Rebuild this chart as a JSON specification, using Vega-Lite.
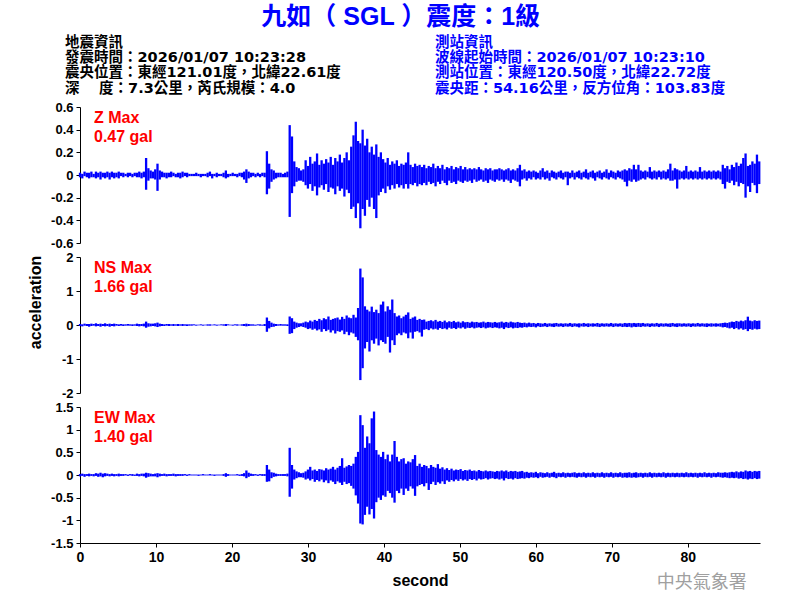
{
"$schema": "https://vega.github.io/schema/vega-lite/v6.json",
"background": "white",
"padding": {"left": 27, "top": 5, "right": 30, "bottom": 5},
"bounds": "flush",
"spacing": 14,
"title": {"text": "九如（ SGL ）震度：1級", "color": "#0000ff", "fontSize": 25, "font": "Liberation Sans, 'Noto Sans CJK TC'", "fontWeight": "bold", "anchor": "middle", "frame": "bounds", "offset": 3, "dx": 7},
"datasets": {
"header": [
{"block":"quake","line":1,"text":"地震資訊"},
{"block":"quake","line":2,"text":"發震時間：2026/01/07 10:23:28"},
{"block":"quake","line":3,"text":"震央位置：東經121.01度，北緯22.61度"},
{"block":"quake","line":4,"text":"深　 度：7.3公里，芮氏規模：4.0"},
{"block":"station","line":1,"text":"測站資訊"},
{"block":"station","line":2,"text":"波線起始時間：2026/01/07 10:23:10"},
{"block":"station","line":3,"text":"測站位置：東經120.50度，北緯22.72度"},
{"block":"station","line":4,"text":"震央距：54.16公里，反方位角：103.83度"}
],
"wave": [
{"t":0,"z0":-0.02,"z1":0.02,"n0":-0.03,"n1":0.03,"e0":-0.03,"e1":0.02},
{"t":0.3,"z0":-0.03,"z1":0.01,"n0":-0.04,"n1":0.02,"e0":-0.02,"e1":0.03},
{"t":0.6,"z0":-0.01,"z1":0.03,"n0":-0.02,"n1":0.04,"e0":-0.04,"e1":0.02},
{"t":0.9,"z0":-0.02,"z1":0.02,"n0":-0.03,"n1":0.03,"e0":-0.02,"e1":0.02},
{"t":1.2,"z0":-0.03,"z1":0.02,"n0":-0.05,"n1":0.03,"e0":-0.03,"e1":0.03},
{"t":1.5,"z0":-0.02,"z1":0.03,"n0":-0.03,"n1":0.04,"e0":-0.02,"e1":0.02},
{"t":1.8,"z0":-0.02,"z1":0.01,"n0":-0.02,"n1":0.03,"e0":-0.03,"e1":0.02},
{"t":2.1,"z0":-0.03,"z1":0.03,"n0":-0.04,"n1":0.05,"e0":-0.02,"e1":0.04},
{"t":2.4,"z0":-0.02,"z1":0.02,"n0":-0.03,"n1":0.03,"e0":-0.04,"e1":0.03},
{"t":2.7,"z0":-0.04,"z1":0.03,"n0":-0.05,"n1":0.04,"e0":-0.03,"e1":0.05},
{"t":3.0,"z0":-0.02,"z1":0.02,"n0":-0.03,"n1":0.03,"e0":-0.05,"e1":0.03},
{"t":3.3,"z0":-0.03,"z1":0.02,"n0":-0.04,"n1":0.05,"e0":-0.03,"e1":0.04},
{"t":3.6,"z0":-0.02,"z1":0.03,"n0":-0.03,"n1":0.03,"e0":-0.02,"e1":0.03},
{"t":3.9,"z0":-0.04,"z1":0.02,"n0":-0.05,"n1":0.04,"e0":-0.03,"e1":0.02},
{"t":4.2,"z0":-0.02,"z1":0.03,"n0":-0.03,"n1":0.03,"e0":-0.02,"e1":0.03},
{"t":4.5,"z0":-0.03,"z1":0.02,"n0":-0.04,"n1":0.04,"e0":-0.03,"e1":0.02},
{"t":4.8,"z0":-0.02,"z1":0.02,"n0":-0.02,"n1":0.03,"e0":-0.02,"e1":0.02},
{"t":5.1,"z0":-0.03,"z1":0.03,"n0":-0.03,"n1":0.02,"e0":-0.03,"e1":0.03},
{"t":5.4,"z0":-0.01,"z1":0.02,"n0":-0.02,"n1":0.03,"e0":-0.02,"e1":0.02},
{"t":5.7,"z0":-0.02,"z1":0.02,"n0":-0.03,"n1":0.02,"e0":-0.02,"e1":0.02},
{"t":6.0,"z0":-0.01,"z1":0.01,"n0":-0.02,"n1":0.02,"e0":-0.01,"e1":0.02},
{"t":6.3,"z0":-0.02,"z1":0.02,"n0":-0.02,"n1":0.03,"e0":-0.02,"e1":0.01},
{"t":6.6,"z0":-0.01,"z1":0.02,"n0":-0.02,"n1":0.02,"e0":-0.01,"e1":0.02},
{"t":6.9,"z0":-0.02,"z1":0.01,"n0":-0.03,"n1":0.02,"e0":-0.02,"e1":0.02},
{"t":7.2,"z0":-0.01,"z1":0.02,"n0":-0.02,"n1":0.02,"e0":-0.02,"e1":0.01},
{"t":7.5,"z0":-0.02,"z1":0.02,"n0":-0.03,"n1":0.04,"e0":-0.02,"e1":0.03},
{"t":7.8,"z0":-0.02,"z1":0.03,"n0":-0.04,"n1":0.03,"e0":-0.03,"e1":0.02},
{"t":8.1,"z0":-0.03,"z1":0.02,"n0":-0.03,"n1":0.03,"e0":-0.02,"e1":0.03},
{"t":8.4,"z0":-0.02,"z1":0.03,"n0":-0.04,"n1":0.04,"e0":-0.03,"e1":0.03},
{"t":8.7,"z0":-0.13,"z1":0.15,"n0":-0.08,"n1":0.1,"e0":-0.06,"e1":0.05},
{"t":9.0,"z0":-0.05,"z1":0.06,"n0":-0.05,"n1":0.05,"e0":-0.04,"e1":0.04},
{"t":9.3,"z0":-0.03,"z1":0.04,"n0":-0.04,"n1":0.04,"e0":-0.03,"e1":0.03},
{"t":9.6,"z0":-0.03,"z1":0.03,"n0":-0.03,"n1":0.04,"e0":-0.03,"e1":0.02},
{"t":9.9,"z0":-0.04,"z1":0.05,"n0":-0.04,"n1":0.05,"e0":-0.03,"e1":0.03},
{"t":10.2,"z0":-0.14,"z1":0.1,"n0":-0.06,"n1":0.07,"e0":-0.05,"e1":0.04},
{"t":10.5,"z0":-0.04,"z1":0.04,"n0":-0.04,"n1":0.04,"e0":-0.03,"e1":0.03},
{"t":10.8,"z0":-0.02,"z1":0.03,"n0":-0.03,"n1":0.03,"e0":-0.02,"e1":0.02},
{"t":11.1,"z0":-0.02,"z1":0.02,"n0":-0.03,"n1":0.02,"e0":-0.02,"e1":0.03},
{"t":11.4,"z0":-0.03,"z1":0.02,"n0":-0.02,"n1":0.03,"e0":-0.03,"e1":0.02},
{"t":11.7,"z0":-0.02,"z1":0.02,"n0":-0.03,"n1":0.03,"e0":-0.02,"e1":0.02},
{"t":12.0,"z0":-0.02,"z1":0.03,"n0":-0.02,"n1":0.02,"e0":-0.02,"e1":0.02},
{"t":12.3,"z0":-0.01,"z1":0.02,"n0":-0.03,"n1":0.03,"e0":-0.02,"e1":0.03},
{"t":12.6,"z0":-0.02,"z1":0.01,"n0":-0.02,"n1":0.02,"e0":-0.03,"e1":0.02},
{"t":12.9,"z0":-0.02,"z1":0.02,"n0":-0.03,"n1":0.03,"e0":-0.02,"e1":0.02},
{"t":13.2,"z0":-0.03,"z1":0.02,"n0":-0.02,"n1":0.02,"e0":-0.02,"e1":0.02},
{"t":13.5,"z0":-0.02,"z1":0.03,"n0":-0.03,"n1":0.03,"e0":-0.02,"e1":0.02},
{"t":13.8,"z0":-0.01,"z1":0.02,"n0":-0.02,"n1":0.02,"e0":-0.01,"e1":0.02},
{"t":14.1,"z0":-0.02,"z1":0.02,"n0":-0.03,"n1":0.02,"e0":-0.02,"e1":0.01},
{"t":14.4,"z0":-0.01,"z1":0.01,"n0":-0.02,"n1":0.02,"e0":-0.01,"e1":0.02},
{"t":14.7,"z0":-0.01,"z1":0.01,"n0":-0.02,"n1":0.02,"e0":-0.01,"e1":0.01},
{"t":15.0,"z0":-0.01,"z1":0.01,"n0":-0.01,"n1":0.02,"e0":-0.01,"e1":0.01},
{"t":15.3,"z0":-0.01,"z1":0.02,"n0":-0.02,"n1":0.01,"e0":-0.01,"e1":0.01},
{"t":15.6,"z0":-0.01,"z1":0.01,"n0":-0.01,"n1":0.01,"e0":-0.02,"e1":0.01},
{"t":15.9,"z0":-0.02,"z1":0.01,"n0":-0.01,"n1":0.02,"e0":-0.01,"e1":0.01},
{"t":16.2,"z0":-0.01,"z1":0.01,"n0":-0.02,"n1":0.01,"e0":-0.01,"e1":0.02},
{"t":16.5,"z0":-0.01,"z1":0.01,"n0":-0.01,"n1":0.01,"e0":-0.01,"e1":0.01},
{"t":16.8,"z0":-0.02,"z1":0.02,"n0":-0.02,"n1":0.02,"e0":-0.01,"e1":0.01},
{"t":17.1,"z0":-0.01,"z1":0.03,"n0":-0.02,"n1":0.02,"e0":-0.01,"e1":0.02},
{"t":17.4,"z0":-0.03,"z1":0.01,"n0":-0.01,"n1":0.01,"e0":-0.01,"e1":0.01},
{"t":17.7,"z0":-0.01,"z1":0.01,"n0":-0.01,"n1":0.02,"e0":-0.02,"e1":0.01},
{"t":18.0,"z0":-0.02,"z1":0.02,"n0":-0.02,"n1":0.01,"e0":-0.01,"e1":0.01},
{"t":18.3,"z0":-0.01,"z1":0.01,"n0":-0.01,"n1":0.01,"e0":-0.01,"e1":0.01},
{"t":18.6,"z0":-0.01,"z1":0.01,"n0":-0.01,"n1":0.02,"e0":-0.01,"e1":0.01},
{"t":18.9,"z0":-0.02,"z1":0.02,"n0":-0.02,"n1":0.02,"e0":-0.02,"e1":0.02},
{"t":19.2,"z0":-0.03,"z1":0.04,"n0":-0.03,"n1":0.03,"e0":-0.04,"e1":0.04},
{"t":19.5,"z0":-0.02,"z1":0.01,"n0":-0.01,"n1":0.02,"e0":-0.02,"e1":0.02},
{"t":19.8,"z0":-0.01,"z1":0.01,"n0":-0.01,"n1":0.01,"e0":-0.01,"e1":0.01},
{"t":20.1,"z0":-0.01,"z1":0.02,"n0":-0.02,"n1":0.01,"e0":-0.01,"e1":0.01},
{"t":20.4,"z0":-0.01,"z1":0.01,"n0":-0.01,"n1":0.02,"e0":-0.01,"e1":0.01},
{"t":20.7,"z0":-0.02,"z1":0.01,"n0":-0.02,"n1":0.02,"e0":-0.01,"e1":0.02},
{"t":21.0,"z0":-0.01,"z1":0.02,"n0":-0.01,"n1":0.01,"e0":-0.02,"e1":0.01},
{"t":21.3,"z0":-0.02,"z1":0.02,"n0":-0.02,"n1":0.02,"e0":-0.02,"e1":0.02},
{"t":21.6,"z0":-0.04,"z1":0.03,"n0":-0.03,"n1":0.03,"e0":-0.03,"e1":0.04},
{"t":21.9,"z0":-0.07,"z1":0.05,"n0":-0.04,"n1":0.04,"e0":-0.07,"e1":0.1},
{"t":22.2,"z0":-0.03,"z1":0.03,"n0":-0.03,"n1":0.03,"e0":-0.04,"e1":0.05},
{"t":22.5,"z0":-0.02,"z1":0.02,"n0":-0.02,"n1":0.02,"e0":-0.02,"e1":0.03},
{"t":22.8,"z0":-0.01,"z1":0.02,"n0":-0.02,"n1":0.02,"e0":-0.02,"e1":0.02},
{"t":23.1,"z0":-0.02,"z1":0.01,"n0":-0.02,"n1":0.01,"e0":-0.01,"e1":0.02},
{"t":23.4,"z0":-0.01,"z1":0.02,"n0":-0.01,"n1":0.02,"e0":-0.02,"e1":0.01},
{"t":23.7,"z0":-0.02,"z1":0.01,"n0":-0.02,"n1":0.02,"e0":-0.01,"e1":0.02},
{"t":24.0,"z0":-0.01,"z1":0.02,"n0":-0.02,"n1":0.01,"e0":-0.02,"e1":0.02},
{"t":24.3,"z0":-0.02,"z1":0.02,"n0":-0.03,"n1":0.03,"e0":-0.02,"e1":0.02},
{"t":24.6,"z0":-0.17,"z1":0.21,"n0":-0.2,"n1":0.22,"e0":-0.15,"e1":0.22},
{"t":24.9,"z0":-0.12,"z1":0.1,"n0":-0.1,"n1":0.12,"e0":-0.14,"e1":0.12},
{"t":25.2,"z0":-0.06,"z1":0.05,"n0":-0.06,"n1":0.07,"e0":-0.07,"e1":0.06},
{"t":25.5,"z0":-0.04,"z1":0.04,"n0":-0.05,"n1":0.04,"e0":-0.04,"e1":0.05},
{"t":25.8,"z0":-0.03,"z1":0.02,"n0":-0.03,"n1":0.03,"e0":-0.03,"e1":0.03},
{"t":26.1,"z0":-0.02,"z1":0.02,"n0":-0.02,"n1":0.02,"e0":-0.02,"e1":0.02},
{"t":26.4,"z0":-0.02,"z1":0.02,"n0":-0.02,"n1":0.03,"e0":-0.02,"e1":0.02},
{"t":26.7,"z0":-0.02,"z1":0.01,"n0":-0.02,"n1":0.02,"e0":-0.02,"e1":0.02},
{"t":27.0,"z0":-0.02,"z1":0.02,"n0":-0.02,"n1":0.02,"e0":-0.02,"e1":0.02},
{"t":27.3,"z0":-0.02,"z1":0.03,"n0":-0.03,"n1":0.02,"e0":-0.03,"e1":0.03},
{"t":27.6,"z0":-0.37,"z1":0.44,"n0":-0.26,"n1":0.25,"e0":-0.48,"e1":0.6},
{"t":27.9,"z0":-0.16,"z1":0.34,"n0":-0.24,"n1":0.2,"e0":-0.3,"e1":0.22},
{"t":28.2,"z0":-0.1,"z1":0.12,"n0":-0.12,"n1":0.1,"e0":-0.1,"e1":0.12},
{"t":28.5,"z0":-0.06,"z1":0.07,"n0":-0.08,"n1":0.07,"e0":-0.07,"e1":0.08},
{"t":28.8,"z0":-0.05,"z1":0.06,"n0":-0.06,"n1":0.05,"e0":-0.05,"e1":0.06},
{"t":29.1,"z0":-0.05,"z1":0.04,"n0":-0.04,"n1":0.05,"e0":-0.05,"e1":0.04},
{"t":29.4,"z0":-0.06,"z1":0.05,"n0":-0.06,"n1":0.07,"e0":-0.06,"e1":0.05},
{"t":29.7,"z0":-0.09,"z1":0.13,"n0":-0.08,"n1":0.1,"e0":-0.1,"e1":0.08},
{"t":30.0,"z0":-0.12,"z1":0.08,"n0":-0.12,"n1":0.08,"e0":-0.08,"e1":0.12},
{"t":30.3,"z0":-0.08,"z1":0.16,"n0":-0.1,"n1":0.13,"e0":-0.12,"e1":0.18},
{"t":30.6,"z0":-0.14,"z1":0.1,"n0":-0.14,"n1":0.1,"e0":-0.09,"e1":0.1},
{"t":30.9,"z0":-0.1,"z1":0.12,"n0":-0.11,"n1":0.15,"e0":-0.15,"e1":0.12},
{"t":31.2,"z0":-0.18,"z1":0.19,"n0":-0.16,"n1":0.12,"e0":-0.11,"e1":0.09},
{"t":31.5,"z0":-0.11,"z1":0.09,"n0":-0.13,"n1":0.18,"e0":-0.14,"e1":0.13},
{"t":31.8,"z0":-0.09,"z1":0.13,"n0":-0.2,"n1":0.14,"e0":-0.1,"e1":0.12},
{"t":32.1,"z0":-0.13,"z1":0.1,"n0":-0.12,"n1":0.2,"e0":-0.16,"e1":0.1},
{"t":32.4,"z0":-0.08,"z1":0.14,"n0":-0.18,"n1":0.17,"e0":-0.12,"e1":0.15},
{"t":32.7,"z0":-0.15,"z1":0.11,"n0":-0.14,"n1":0.25,"e0":-0.18,"e1":0.12},
{"t":33.0,"z0":-0.11,"z1":0.16,"n0":-0.22,"n1":0.15,"e0":-0.12,"e1":0.14},
{"t":33.3,"z0":-0.12,"z1":0.09,"n0":-0.16,"n1":0.18,"e0":-0.15,"e1":0.18},
{"t":33.6,"z0":-0.17,"z1":0.15,"n0":-0.25,"n1":0.2,"e0":-0.2,"e1":0.12},
{"t":33.9,"z0":-0.1,"z1":0.12,"n0":-0.18,"n1":0.22,"e0":-0.14,"e1":0.16},
{"t":34.2,"z0":-0.14,"z1":0.18,"n0":-0.2,"n1":0.16,"e0":-0.17,"e1":0.2},
{"t":34.5,"z0":-0.12,"z1":0.11,"n0":-0.16,"n1":0.24,"e0":-0.22,"e1":0.37},
{"t":34.8,"z0":-0.19,"z1":0.15,"n0":-0.27,"n1":0.18,"e0":-0.15,"e1":0.16},
{"t":35.1,"z0":-0.13,"z1":0.2,"n0":-0.2,"n1":0.28,"e0":-0.2,"e1":0.19},
{"t":35.4,"z0":-0.16,"z1":0.13,"n0":-0.3,"n1":0.22,"e0":-0.18,"e1":0.22},
{"t":35.7,"z0":-0.3,"z1":0.25,"n0":-0.22,"n1":0.2,"e0":-0.24,"e1":0.2},
{"t":36.0,"z0":-0.28,"z1":0.35,"n0":-0.25,"n1":0.3,"e0":-0.3,"e1":0.25},
{"t":36.3,"z0":-0.38,"z1":0.47,"n0":-0.35,"n1":0.22,"e0":-0.45,"e1":0.4},
{"t":36.6,"z0":-0.25,"z1":0.3,"n0":-0.45,"n1":0.5,"e0":-0.63,"e1":0.51},
{"t":36.9,"z0":-0.47,"z1":0.28,"n0":-1.62,"n1":1.66,"e0":-1.07,"e1":1.32},
{"t":37.2,"z0":-0.3,"z1":0.4,"n0":-1.27,"n1":1.4,"e0":-1.09,"e1":1.1},
{"t":37.5,"z0":-0.36,"z1":0.26,"n0":-0.69,"n1":0.55,"e0":-0.88,"e1":0.6},
{"t":37.8,"z0":-0.22,"z1":0.32,"n0":-0.5,"n1":0.45,"e0":-0.7,"e1":0.85},
{"t":38.1,"z0":-0.28,"z1":0.2,"n0":-0.78,"n1":0.4,"e0":-0.87,"e1":0.7},
{"t":38.4,"z0":-0.2,"z1":0.25,"n0":-0.45,"n1":0.54,"e0":-0.75,"e1":1.25},
{"t":38.7,"z0":-0.3,"z1":0.18,"n0":-0.55,"n1":0.38,"e0":-0.96,"e1":1.4},
{"t":39.0,"z0":-0.38,"z1":0.27,"n0":-0.4,"n1":0.45,"e0":-0.6,"e1":0.55},
{"t":39.3,"z0":-0.18,"z1":0.16,"n0":-0.6,"n1":0.35,"e0":-0.5,"e1":0.45},
{"t":39.6,"z0":-0.15,"z1":0.2,"n0":-0.45,"n1":0.6,"e0":-0.55,"e1":0.4},
{"t":39.9,"z0":-0.12,"z1":0.14,"n0":-0.5,"n1":0.69,"e0":-0.45,"e1":0.51},
{"t":40.2,"z0":-0.16,"z1":0.11,"n0":-0.55,"n1":0.4,"e0":-0.48,"e1":0.35},
{"t":40.5,"z0":-0.1,"z1":0.15,"n0":-0.35,"n1":0.55,"e0":-0.35,"e1":0.45},
{"t":40.8,"z0":-0.13,"z1":0.09,"n0":-0.81,"n1":0.45,"e0":-0.4,"e1":0.3},
{"t":41.1,"z0":-0.09,"z1":0.12,"n0":-0.45,"n1":0.75,"e0":-0.5,"e1":0.45},
{"t":41.4,"z0":-0.12,"z1":0.1,"n0":-0.59,"n1":0.35,"e0":-0.61,"e1":0.75},
{"t":41.7,"z0":-0.08,"z1":0.13,"n0":-0.3,"n1":0.25,"e0":-0.35,"e1":0.4},
{"t":42.0,"z0":-0.11,"z1":0.08,"n0":-0.25,"n1":0.28,"e0":-0.4,"e1":0.3},
{"t":42.3,"z0":-0.09,"z1":0.1,"n0":-0.3,"n1":0.2,"e0":-0.3,"e1":0.35},
{"t":42.6,"z0":-0.12,"z1":0.09,"n0":-0.22,"n1":0.25,"e0":-0.44,"e1":0.37},
{"t":42.9,"z0":-0.08,"z1":0.11,"n0":-0.25,"n1":0.3,"e0":-0.3,"e1":0.25},
{"t":43.2,"z0":-0.12,"z1":0.2,"n0":-0.39,"n1":0.37,"e0":-0.35,"e1":0.3},
{"t":43.5,"z0":-0.08,"z1":0.09,"n0":-0.22,"n1":0.18,"e0":-0.25,"e1":0.28},
{"t":43.8,"z0":-0.09,"z1":0.07,"n0":-0.4,"n1":0.22,"e0":-0.3,"e1":0.35},
{"t":44.1,"z0":-0.07,"z1":0.1,"n0":-0.2,"n1":0.25,"e0":-0.46,"e1":0.44},
{"t":44.4,"z0":-0.1,"z1":0.08,"n0":-0.18,"n1":0.15,"e0":-0.25,"e1":0.2},
{"t":44.7,"z0":-0.08,"z1":0.09,"n0":-0.22,"n1":0.18,"e0":-0.22,"e1":0.25},
{"t":45.0,"z0":-0.09,"z1":0.07,"n0":-0.34,"n1":0.15,"e0":-0.2,"e1":0.18},
{"t":45.3,"z0":-0.07,"z1":0.09,"n0":-0.14,"n1":0.16,"e0":-0.25,"e1":0.22},
{"t":45.6,"z0":-0.09,"z1":0.06,"n0":-0.12,"n1":0.1,"e0":-0.18,"e1":0.2},
{"t":45.9,"z0":-0.06,"z1":0.08,"n0":-0.15,"n1":0.12,"e0":-0.33,"e1":0.15},
{"t":46.2,"z0":-0.08,"z1":0.07,"n0":-0.1,"n1":0.14,"e0":-0.2,"e1":0.22},
{"t":46.5,"z0":-0.07,"z1":0.1,"n0":-0.13,"n1":0.11,"e0":-0.15,"e1":0.18},
{"t":46.8,"z0":-0.1,"z1":0.06,"n0":-0.11,"n1":0.15,"e0":-0.22,"e1":0.16},
{"t":47.1,"z0":-0.06,"z1":0.08,"n0":-0.14,"n1":0.1,"e0":-0.16,"e1":0.24},
{"t":47.4,"z0":-0.08,"z1":0.06,"n0":-0.09,"n1":0.12,"e0":-0.19,"e1":0.14},
{"t":47.7,"z0":-0.05,"z1":0.09,"n0":-0.12,"n1":0.09,"e0":-0.14,"e1":0.17},
{"t":48.0,"z0":-0.07,"z1":0.05,"n0":-0.1,"n1":0.13,"e0":-0.2,"e1":0.12},
{"t":48.3,"z0":-0.09,"z1":0.07,"n0":-0.13,"n1":0.08,"e0":-0.12,"e1":0.15},
{"t":48.6,"z0":-0.05,"z1":0.06,"n0":-0.08,"n1":0.11,"e0":-0.15,"e1":0.11},
{"t":48.9,"z0":-0.07,"z1":0.08,"n0":-0.11,"n1":0.09,"e0":-0.11,"e1":0.14},
{"t":49.2,"z0":-0.06,"z1":0.05,"n0":-0.09,"n1":0.12,"e0":-0.14,"e1":0.1},
{"t":49.5,"z0":-0.08,"z1":0.07,"n0":-0.12,"n1":0.08,"e0":-0.1,"e1":0.12},
{"t":49.8,"z0":-0.05,"z1":0.06,"n0":-0.08,"n1":0.1,"e0":-0.13,"e1":0.11},
{"t":50.1,"z0":-0.06,"z1":0.08,"n0":-0.1,"n1":0.07,"e0":-0.09,"e1":0.13},
{"t":50.4,"z0":-0.07,"z1":0.05,"n0":-0.07,"n1":0.11,"e0":-0.12,"e1":0.09},
{"t":50.7,"z0":-0.05,"z1":0.07,"n0":-0.11,"n1":0.08,"e0":-0.1,"e1":0.11},
{"t":51.0,"z0":-0.06,"z1":0.05,"n0":-0.08,"n1":0.09,"e0":-0.13,"e1":0.1},
{"t":51.3,"z0":-0.05,"z1":0.06,"n0":-0.09,"n1":0.07,"e0":-0.09,"e1":0.12},
{"t":51.6,"z0":-0.07,"z1":0.05,"n0":-0.07,"n1":0.1,"e0":-0.11,"e1":0.09},
{"t":51.9,"z0":-0.04,"z1":0.06,"n0":-0.1,"n1":0.08,"e0":-0.09,"e1":0.1},
{"t":52.2,"z0":-0.06,"z1":0.05,"n0":-0.08,"n1":0.09,"e0":-0.12,"e1":0.08},
{"t":52.5,"z0":-0.05,"z1":0.07,"n0":-0.07,"n1":0.07,"e0":-0.08,"e1":0.11},
{"t":52.8,"z0":-0.04,"z1":0.05,"n0":-0.09,"n1":0.08,"e0":-0.1,"e1":0.09},
{"t":53.1,"z0":-0.06,"z1":0.04,"n0":-0.07,"n1":0.1,"e0":-0.09,"e1":0.08},
{"t":53.4,"z0":-0.05,"z1":0.06,"n0":-0.1,"n1":0.07,"e0":-0.07,"e1":0.1},
{"t":53.7,"z0":-0.07,"z1":0.05,"n0":-0.08,"n1":0.09,"e0":-0.1,"e1":0.08},
{"t":54.0,"z0":-0.04,"z1":0.06,"n0":-0.07,"n1":0.08,"e0":-0.08,"e1":0.09},
{"t":54.3,"z0":-0.05,"z1":0.04,"n0":-0.09,"n1":0.07,"e0":-0.07,"e1":0.08},
{"t":54.6,"z0":-0.06,"z1":0.05,"n0":-0.07,"n1":0.09,"e0":-0.09,"e1":0.07},
{"t":54.9,"z0":-0.04,"z1":0.05,"n0":-0.08,"n1":0.07,"e0":-0.08,"e1":0.09},
{"t":55.2,"z0":-0.05,"z1":0.06,"n0":-0.1,"n1":0.08,"e0":-0.1,"e1":0.08},
{"t":55.5,"z0":-0.04,"z1":0.05,"n0":-0.08,"n1":0.1,"e0":-0.08,"e1":0.1},
{"t":55.8,"z0":-0.06,"z1":0.04,"n0":-0.12,"n1":0.07,"e0":-0.12,"e1":0.08},
{"t":56.1,"z0":-0.04,"z1":0.05,"n0":-0.07,"n1":0.09,"e0":-0.07,"e1":0.1},
{"t":56.4,"z0":-0.05,"z1":0.06,"n0":-0.09,"n1":0.07,"e0":-0.09,"e1":0.07},
{"t":56.7,"z0":-0.07,"z1":0.04,"n0":-0.07,"n1":0.1,"e0":-0.08,"e1":0.09},
{"t":57.0,"z0":-0.04,"z1":0.05,"n0":-0.1,"n1":0.08,"e0":-0.1,"e1":0.08},
{"t":57.3,"z0":-0.05,"z1":0.04,"n0":-0.08,"n1":0.07,"e0":-0.07,"e1":0.09},
{"t":57.6,"z0":-0.06,"z1":0.06,"n0":-0.09,"n1":0.09,"e0":-0.09,"e1":0.07},
{"t":57.9,"z0":-0.1,"z1":0.09,"n0":-0.07,"n1":0.07,"e0":-0.08,"e1":0.08},
{"t":58.2,"z0":-0.04,"z1":0.04,"n0":-0.08,"n1":0.06,"e0":-0.07,"e1":0.09},
{"t":58.5,"z0":-0.03,"z1":0.05,"n0":-0.06,"n1":0.07,"e0":-0.08,"e1":0.06},
{"t":58.8,"z0":-0.05,"z1":0.03,"n0":-0.07,"n1":0.05,"e0":-0.06,"e1":0.07},
{"t":59.1,"z0":-0.03,"z1":0.04,"n0":-0.05,"n1":0.07,"e0":-0.07,"e1":0.05},
{"t":59.4,"z0":-0.04,"z1":0.03,"n0":-0.06,"n1":0.05,"e0":-0.05,"e1":0.06},
{"t":59.7,"z0":-0.02,"z1":0.04,"n0":-0.05,"n1":0.06,"e0":-0.06,"e1":0.05},
{"t":60.0,"z0":-0.04,"z1":0.03,"n0":-0.07,"n1":0.04,"e0":-0.05,"e1":0.07},
{"t":60.3,"z0":-0.03,"z1":0.02,"n0":-0.04,"n1":0.06,"e0":-0.07,"e1":0.04},
{"t":60.6,"z0":-0.04,"z1":0.04,"n0":-0.06,"n1":0.05,"e0":-0.04,"e1":0.06},
{"t":60.9,"z0":-0.02,"z1":0.06,"n0":-0.05,"n1":0.04,"e0":-0.06,"e1":0.05},
{"t":61.2,"z0":-0.04,"z1":0.03,"n0":-0.04,"n1":0.06,"e0":-0.05,"e1":0.04},
{"t":61.5,"z0":-0.03,"z1":0.04,"n0":-0.06,"n1":0.04,"e0":-0.04,"e1":0.06},
{"t":61.8,"z0":-0.05,"z1":0.02,"n0":-0.04,"n1":0.05,"e0":-0.06,"e1":0.04},
{"t":62.1,"z0":-0.02,"z1":0.04,"n0":-0.05,"n1":0.04,"e0":-0.04,"e1":0.05},
{"t":62.4,"z0":-0.03,"z1":0.03,"n0":-0.06,"n1":0.05,"e0":-0.05,"e1":0.07},
{"t":62.7,"z0":-0.04,"z1":0.02,"n0":-0.04,"n1":0.06,"e0":-0.07,"e1":0.04},
{"t":63.0,"z0":-0.02,"z1":0.03,"n0":-0.05,"n1":0.04,"e0":-0.04,"e1":0.05},
{"t":63.3,"z0":-0.03,"z1":0.04,"n0":-0.04,"n1":0.05,"e0":-0.05,"e1":0.04},
{"t":63.6,"z0":-0.04,"z1":0.02,"n0":-0.06,"n1":0.04,"e0":-0.04,"e1":0.06},
{"t":63.9,"z0":-0.02,"z1":0.03,"n0":-0.04,"n1":0.05,"e0":-0.06,"e1":0.04},
{"t":64.2,"z0":-0.09,"z1":0.03,"n0":-0.05,"n1":0.04,"e0":-0.04,"e1":0.05},
{"t":64.5,"z0":-0.03,"z1":0.02,"n0":-0.04,"n1":0.06,"e0":-0.05,"e1":0.04},
{"t":64.8,"z0":-0.02,"z1":0.04,"n0":-0.06,"n1":0.04,"e0":-0.04,"e1":0.05},
{"t":65.1,"z0":-0.04,"z1":0.02,"n0":-0.04,"n1":0.05,"e0":-0.05,"e1":0.06},
{"t":65.4,"z0":-0.02,"z1":0.03,"n0":-0.05,"n1":0.04,"e0":-0.06,"e1":0.04},
{"t":65.7,"z0":-0.03,"z1":0.04,"n0":-0.07,"n1":0.05,"e0":-0.04,"e1":0.05},
{"t":66.0,"z0":-0.04,"z1":0.02,"n0":-0.04,"n1":0.04,"e0":-0.05,"e1":0.04},
{"t":66.3,"z0":-0.02,"z1":0.03,"n0":-0.05,"n1":0.06,"e0":-0.04,"e1":0.06},
{"t":66.6,"z0":-0.03,"z1":0.05,"n0":-0.04,"n1":0.04,"e0":-0.06,"e1":0.04},
{"t":66.9,"z0":-0.04,"z1":0.02,"n0":-0.06,"n1":0.05,"e0":-0.04,"e1":0.05},
{"t":67.2,"z0":-0.02,"z1":0.03,"n0":-0.04,"n1":0.04,"e0":-0.05,"e1":0.04},
{"t":67.5,"z0":-0.03,"z1":0.04,"n0":-0.05,"n1":0.05,"e0":-0.04,"e1":0.06},
{"t":67.8,"z0":-0.05,"z1":0.02,"n0":-0.04,"n1":0.04,"e0":-0.06,"e1":0.04},
{"t":68.1,"z0":-0.02,"z1":0.03,"n0":-0.05,"n1":0.06,"e0":-0.04,"e1":0.05},
{"t":68.4,"z0":-0.03,"z1":0.04,"n0":-0.06,"n1":0.04,"e0":-0.05,"e1":0.04},
{"t":68.7,"z0":-0.04,"z1":0.02,"n0":-0.04,"n1":0.05,"e0":-0.04,"e1":0.06},
{"t":69.0,"z0":-0.02,"z1":0.03,"n0":-0.05,"n1":0.04,"e0":-0.06,"e1":0.04},
{"t":69.3,"z0":-0.03,"z1":0.05,"n0":-0.04,"n1":0.05,"e0":-0.04,"e1":0.05},
{"t":69.6,"z0":-0.04,"z1":0.02,"n0":-0.05,"n1":0.04,"e0":-0.05,"e1":0.04},
{"t":69.9,"z0":-0.02,"z1":0.04,"n0":-0.04,"n1":0.06,"e0":-0.04,"e1":0.06},
{"t":70.2,"z0":-0.03,"z1":0.03,"n0":-0.06,"n1":0.04,"e0":-0.06,"e1":0.04},
{"t":70.5,"z0":-0.04,"z1":0.02,"n0":-0.04,"n1":0.05,"e0":-0.04,"e1":0.05},
{"t":70.8,"z0":-0.02,"z1":0.04,"n0":-0.05,"n1":0.04,"e0":-0.05,"e1":0.04},
{"t":71.1,"z0":-0.03,"z1":0.03,"n0":-0.04,"n1":0.05,"e0":-0.04,"e1":0.06},
{"t":71.4,"z0":-0.04,"z1":0.04,"n0":-0.06,"n1":0.04,"e0":-0.06,"e1":0.04},
{"t":71.7,"z0":-0.06,"z1":0.05,"n0":-0.05,"n1":0.06,"e0":-0.05,"e1":0.05},
{"t":72.0,"z0":-0.1,"z1":0.04,"n0":-0.06,"n1":0.05,"e0":-0.06,"e1":0.05},
{"t":72.3,"z0":-0.05,"z1":0.06,"n0":-0.05,"n1":0.06,"e0":-0.05,"e1":0.06},
{"t":72.6,"z0":-0.06,"z1":0.05,"n0":-0.07,"n1":0.05,"e0":-0.06,"e1":0.04},
{"t":72.9,"z0":-0.04,"z1":0.09,"n0":-0.05,"n1":0.06,"e0":-0.05,"e1":0.05},
{"t":73.2,"z0":-0.06,"z1":0.05,"n0":-0.06,"n1":0.05,"e0":-0.06,"e1":0.06},
{"t":73.5,"z0":-0.05,"z1":0.09,"n0":-0.05,"n1":0.06,"e0":-0.05,"e1":0.04},
{"t":73.8,"z0":-0.04,"z1":0.04,"n0":-0.06,"n1":0.05,"e0":-0.04,"e1":0.05},
{"t":74.1,"z0":-0.03,"z1":0.03,"n0":-0.04,"n1":0.06,"e0":-0.06,"e1":0.04},
{"t":74.4,"z0":-0.04,"z1":0.04,"n0":-0.05,"n1":0.04,"e0":-0.04,"e1":0.05},
{"t":74.7,"z0":-0.02,"z1":0.03,"n0":-0.04,"n1":0.05,"e0":-0.05,"e1":0.04},
{"t":75.0,"z0":-0.03,"z1":0.07,"n0":-0.06,"n1":0.04,"e0":-0.04,"e1":0.06},
{"t":75.3,"z0":-0.04,"z1":0.03,"n0":-0.04,"n1":0.05,"e0":-0.06,"e1":0.04},
{"t":75.6,"z0":-0.03,"z1":0.04,"n0":-0.05,"n1":0.04,"e0":-0.04,"e1":0.05},
{"t":75.9,"z0":-0.04,"z1":0.03,"n0":-0.04,"n1":0.06,"e0":-0.05,"e1":0.04},
{"t":76.2,"z0":-0.02,"z1":0.04,"n0":-0.06,"n1":0.04,"e0":-0.04,"e1":0.05},
{"t":76.5,"z0":-0.04,"z1":0.03,"n0":-0.04,"n1":0.05,"e0":-0.05,"e1":0.04},
{"t":76.8,"z0":-0.03,"z1":0.04,"n0":-0.05,"n1":0.04,"e0":-0.04,"e1":0.06},
{"t":77.1,"z0":-0.04,"z1":0.03,"n0":-0.04,"n1":0.05,"e0":-0.06,"e1":0.04},
{"t":77.4,"z0":-0.03,"z1":0.05,"n0":-0.05,"n1":0.04,"e0":-0.04,"e1":0.05},
{"t":77.7,"z0":-0.05,"z1":0.1,"n0":-0.06,"n1":0.05,"e0":-0.05,"e1":0.04},
{"t":78.0,"z0":-0.05,"z1":0.04,"n0":-0.04,"n1":0.06,"e0":-0.04,"e1":0.05},
{"t":78.3,"z0":-0.04,"z1":0.06,"n0":-0.05,"n1":0.04,"e0":-0.05,"e1":0.04},
{"t":78.6,"z0":-0.12,"z1":0.05,"n0":-0.06,"n1":0.05,"e0":-0.04,"e1":0.05},
{"t":78.9,"z0":-0.04,"z1":0.04,"n0":-0.04,"n1":0.05,"e0":-0.05,"e1":0.04},
{"t":79.2,"z0":-0.03,"z1":0.03,"n0":-0.05,"n1":0.04,"e0":-0.04,"e1":0.05},
{"t":79.5,"z0":-0.04,"z1":0.04,"n0":-0.04,"n1":0.05,"e0":-0.05,"e1":0.04},
{"t":79.8,"z0":-0.03,"z1":0.08,"n0":-0.05,"n1":0.04,"e0":-0.04,"e1":0.06},
{"t":80.1,"z0":-0.04,"z1":0.03,"n0":-0.04,"n1":0.05,"e0":-0.05,"e1":0.04},
{"t":80.4,"z0":-0.03,"z1":0.04,"n0":-0.06,"n1":0.04,"e0":-0.04,"e1":0.05},
{"t":80.7,"z0":-0.04,"z1":0.03,"n0":-0.04,"n1":0.05,"e0":-0.05,"e1":0.04},
{"t":81.0,"z0":-0.03,"z1":0.04,"n0":-0.05,"n1":0.04,"e0":-0.04,"e1":0.05},
{"t":81.3,"z0":-0.04,"z1":0.03,"n0":-0.04,"n1":0.06,"e0":-0.06,"e1":0.04},
{"t":81.6,"z0":-0.03,"z1":0.07,"n0":-0.05,"n1":0.04,"e0":-0.04,"e1":0.05},
{"t":81.9,"z0":-0.04,"z1":0.03,"n0":-0.04,"n1":0.05,"e0":-0.05,"e1":0.04},
{"t":82.2,"z0":-0.03,"z1":0.04,"n0":-0.05,"n1":0.04,"e0":-0.04,"e1":0.06},
{"t":82.5,"z0":-0.04,"z1":0.03,"n0":-0.06,"n1":0.05,"e0":-0.05,"e1":0.04},
{"t":82.8,"z0":-0.03,"z1":0.04,"n0":-0.04,"n1":0.04,"e0":-0.04,"e1":0.05},
{"t":83.1,"z0":-0.04,"z1":0.03,"n0":-0.05,"n1":0.05,"e0":-0.06,"e1":0.04},
{"t":83.4,"z0":-0.03,"z1":0.04,"n0":-0.04,"n1":0.04,"e0":-0.04,"e1":0.05},
{"t":83.7,"z0":-0.04,"z1":0.03,"n0":-0.05,"n1":0.05,"e0":-0.05,"e1":0.04},
{"t":84.0,"z0":-0.03,"z1":0.04,"n0":-0.04,"n1":0.04,"e0":-0.04,"e1":0.06},
{"t":84.3,"z0":-0.04,"z1":0.03,"n0":-0.05,"n1":0.05,"e0":-0.05,"e1":0.05},
{"t":84.6,"z0":-0.08,"z1":0.09,"n0":-0.07,"n1":0.06,"e0":-0.06,"e1":0.05},
{"t":84.9,"z0":-0.12,"z1":0.06,"n0":-0.06,"n1":0.07,"e0":-0.05,"e1":0.06},
{"t":85.2,"z0":-0.06,"z1":0.08,"n0":-0.08,"n1":0.06,"e0":-0.06,"e1":0.05},
{"t":85.5,"z0":-0.07,"z1":0.05,"n0":-0.1,"n1":0.08,"e0":-0.07,"e1":0.06},
{"t":85.8,"z0":-0.05,"z1":0.09,"n0":-0.08,"n1":0.1,"e0":-0.06,"e1":0.07},
{"t":86.1,"z0":-0.09,"z1":0.07,"n0":-0.12,"n1":0.09,"e0":-0.07,"e1":0.06},
{"t":86.4,"z0":-0.06,"z1":0.11,"n0":-0.09,"n1":0.12,"e0":-0.06,"e1":0.08},
{"t":86.7,"z0":-0.1,"z1":0.08,"n0":-0.13,"n1":0.1,"e0":-0.08,"e1":0.06},
{"t":87.0,"z0":-0.07,"z1":0.1,"n0":-0.1,"n1":0.13,"e0":-0.07,"e1":0.08},
{"t":87.3,"z0":-0.08,"z1":0.15,"n0":-0.14,"n1":0.11,"e0":-0.09,"e1":0.07},
{"t":87.6,"z0":-0.2,"z1":0.19,"n0":-0.12,"n1":0.14,"e0":-0.08,"e1":0.1},
{"t":87.9,"z0":-0.1,"z1":0.08,"n0":-0.18,"n1":0.245,"e0":-0.1,"e1":0.08},
{"t":88.2,"z0":-0.15,"z1":0.09,"n0":-0.12,"n1":0.13,"e0":-0.08,"e1":0.09},
{"t":88.5,"z0":-0.07,"z1":0.12,"n0":-0.14,"n1":0.11,"e0":-0.09,"e1":0.07},
{"t":88.8,"z0":-0.09,"z1":0.1,"n0":-0.11,"n1":0.14,"e0":-0.07,"e1":0.09},
{"t":89.1,"z0":-0.16,"z1":0.18,"n0":-0.13,"n1":0.12,"e0":-0.09,"e1":0.08},
{"t":89.4,"z0":-0.08,"z1":0.12,"n0":-0.12,"n1":0.13,"e0":-0.08,"e1":0.09}
]
},
"vconcat": [
{
"width": 680, "height": 60,
"data": {"name": "header"},
"layer": [
{"transform": [{"filter": "datum.block == 'quake'"}],
 "mark": {"type": "text", "align": "left", "baseline": "middle", "fontSize": 14.5, "font": "DejaVu Sans, 'Noto Sans CJK TC'", "fontWeight": "bold", "color": "black"},
 "encoding": {
  "x": {"datum": -1.97, "type": "quantitative", "scale": {"domain": [0, 89.5], "nice": false}, "axis": null},
  "y": {"field": "line", "type": "quantitative", "scale": {"domain": [0.38, 4.29], "reverse": true, "nice": false, "zero": false}, "axis": null},
  "text": {"field": "text", "type": "nominal"}
 }},
{"transform": [{"filter": "datum.block == 'station'"}],
 "mark": {"type": "text", "align": "left", "baseline": "middle", "fontSize": 14.5, "font": "DejaVu Sans, 'Noto Sans CJK TC'", "fontWeight": "bold", "color": "#0000ff"},
 "encoding": {
  "x": {"datum": 46.71, "type": "quantitative"},
  "y": {"field": "line", "type": "quantitative"},
  "text": {"field": "text", "type": "nominal"}
 }}
]
},
{
"width": 680, "height": 136,
"layer": [
{"data": {"name": "wave"},
 "mark": {"type": "rule", "color": "#0000ff", "strokeWidth": 2.3},
 "encoding": {
  "x": {"field": "t", "type": "quantitative", "scale": {"domain": [0, 89.5], "nice": false, "zero": false}, "axis": null},
  "y": {"field": "z0", "type": "quantitative", "scale": {"domain": [-0.6, 0.6], "nice": false}, "axis": {"values": [-0.6, -0.4, -0.2, 0, 0.2, 0.4, 0.6], "tickCount": 20, "title": null, "labelOverlap": false, "labelExpr": "toString(datum.value)"}},
  "y2": {"field": "z1"}
 }},
{"data": {"values": [{"label": ["Z Max", "0.47 gal"]}]},
 "mark": {"type": "text", "align": "left", "baseline": "top", "fontSize": 16, "lineHeight": 19, "font": "Liberation Sans", "fontWeight": "bold", "color": "#ff0000"},
 "encoding": {
  "x": {"datum": 1.84, "type": "quantitative"},
  "y": {"datum": 0.57, "type": "quantitative"},
  "text": {"field": "label", "type": "nominal"}
 }}
]
},
{
"width": 680, "height": 136,
"layer": [
{"data": {"name": "wave"},
 "mark": {"type": "rule", "color": "#0000ff", "strokeWidth": 2.3},
 "encoding": {
  "x": {"field": "t", "type": "quantitative", "scale": {"domain": [0, 89.5], "nice": false, "zero": false}, "axis": null},
  "y": {"field": "n0", "type": "quantitative", "scale": {"domain": [-2, 2], "nice": false}, "axis": {"values": [-2, -1, 0, 1, 2], "tickCount": 20, "title": "acceleration", "titleX": -37, "titleY": 45, "labelOverlap": false, "labelExpr": "toString(datum.value)"}},
  "y2": {"field": "n1"}
 }},
{"data": {"values": [{"label": ["NS Max", "1.66 gal"]}]},
 "mark": {"type": "text", "align": "left", "baseline": "top", "fontSize": 16, "lineHeight": 19, "font": "Liberation Sans", "fontWeight": "bold", "color": "#ff0000"},
 "encoding": {
  "x": {"datum": 1.84, "type": "quantitative"},
  "y": {"datum": 1.9, "type": "quantitative"},
  "text": {"field": "label", "type": "nominal"}
 }}
]
},
{
"width": 680, "height": 136,
"layer": [
{"data": {"name": "wave"},
 "mark": {"type": "rule", "color": "#0000ff", "strokeWidth": 2.3},
 "encoding": {
  "x": {"field": "t", "type": "quantitative", "scale": {"domain": [0, 89.5], "nice": false, "zero": false}, "axis": {"values": [0, 10, 20, 30, 40, 50, 60, 70, 80], "tickCount": 20, "title": "second", "labelFlush": false, "titlePadding": 8, "labelFontSize": 14}},
  "y": {"field": "e0", "type": "quantitative", "scale": {"domain": [-1.5, 1.5], "nice": false}, "axis": {"values": [-1.5, -1, -0.5, 0, 0.5, 1, 1.5], "tickCount": 20, "title": null, "labelOverlap": false, "labelExpr": "toString(datum.value)"}},
  "y2": {"field": "e1"}
 }},
{"data": {"values": [{"label": ["EW Max", "1.40 gal"]}]},
 "mark": {"type": "text", "align": "left", "baseline": "top", "fontSize": 16, "lineHeight": 19, "font": "Liberation Sans", "fontWeight": "bold", "color": "#ff0000"},
 "encoding": {
  "x": {"datum": 1.84, "type": "quantitative"},
  "y": {"datum": 1.425, "type": "quantitative"},
  "text": {"field": "label", "type": "nominal"}
 }},
{"data": {"values": [{"agency": "中央氣象署"}]},
 "mark": {"type": "text", "align": "center", "baseline": "middle", "fontSize": 18, "font": "Noto Sans CJK TC", "color": "#a0a0a0"},
 "encoding": {
  "x": {"datum": 81.84, "type": "quantitative"},
  "y": {"datum": -2.38, "type": "quantitative"},
  "text": {"field": "agency", "type": "nominal"}
 }}
]
}
],
"config": {
 "view": {"stroke": null},
 "axis": {"domainColor": "black", "tickColor": "black", "labelColor": "black", "labelFont": "Liberation Sans", "labelFontSize": 13, "labelFontWeight": "bold", "titleFont": "Liberation Sans", "titleFontSize": 16, "titleFontWeight": "bold", "titleColor": "black", "grid": false, "tickSize": 4, "labelPadding": 3, "domainWidth": 1, "tickWidth": 1}
}
}
